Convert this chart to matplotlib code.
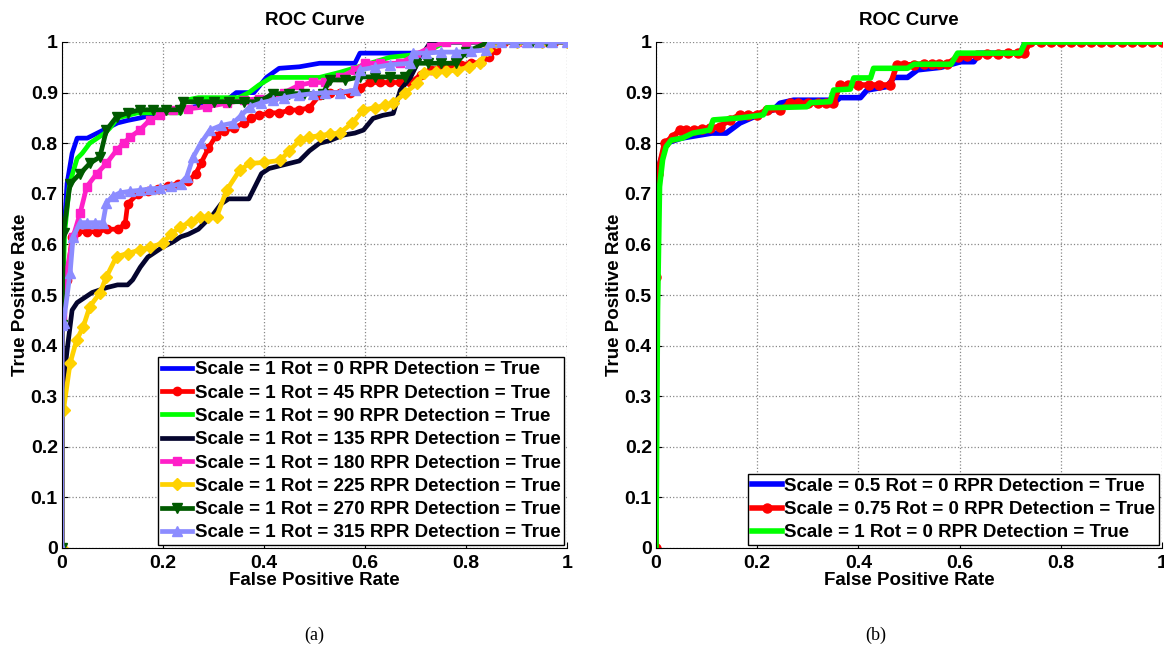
import matplotlib
matplotlib.use("Agg")
import matplotlib.pyplot as plt
from matplotlib.ticker import FuncFormatter

plt.rcParams['font.family'] = ['Liberation Sans', 'DejaVu Sans']
plt.rcParams['font.weight'] = 'bold'

# ---- (a) rotations, scale = 1 ----
rot0_x = [0, 0, 0.005, 0.01, 0.02, 0.03, 0.05, 0.07, 0.09, 0.11, 0.13, 0.155, 0.175, 0.2, 0.234, 0.25, 0.28, 0.32, 0.345, 0.38,
          0.405, 0.43, 0.47, 0.51, 0.58, 0.59, 0.65, 0.72, 0.73, 0.8, 0.9, 1.0]
rot0_y = [0, 0.53, 0.64, 0.72, 0.78, 0.81, 0.81, 0.82, 0.83, 0.84, 0.845, 0.85, 0.855, 0.86, 0.866, 0.87, 0.875, 0.88, 0.90, 0.90,
          0.93, 0.948, 0.951, 0.958, 0.958, 0.978, 0.978, 0.978, 1.0, 1.0, 1.0, 1.0]

rot45_x = [0, 0, 0.01, 0.02, 0.03, 0.05, 0.07, 0.09, 0.11, 0.125, 0.13, 0.15, 0.17, 0.19, 0.21, 0.23, 0.25, 0.265, 0.275, 0.29,
           0.305, 0.32, 0.34, 0.36, 0.375, 0.39, 0.41, 0.43, 0.45, 0.47, 0.49, 0.51, 0.53, 0.55, 0.57, 0.59, 0.61, 0.63, 0.65, 0.67,
           0.69, 0.71, 0.73, 0.75, 0.77, 0.79, 0.81, 0.83, 0.845, 0.86, 0.875, 0.9, 0.925, 0.95, 0.975, 1.0]
rot45_y = [0, 0.44, 0.53, 0.615, 0.625, 0.625, 0.625, 0.63, 0.63, 0.64, 0.68, 0.70, 0.705, 0.71, 0.715, 0.72, 0.725, 0.74, 0.76, 0.79,
           0.815, 0.825, 0.83, 0.84, 0.85, 0.855, 0.86, 0.86, 0.865, 0.866, 0.87, 0.895, 0.90, 0.90, 0.90, 0.91, 0.92, 0.92, 0.92, 0.92,
           0.92, 0.935, 0.945, 0.95, 0.955, 0.955, 0.958, 0.96, 0.97, 0.985, 1.0, 1.0, 1.0, 1.0, 1.0, 1.0]

rot90_x = [0, 0, 0.005, 0.015, 0.03, 0.04, 0.055, 0.07, 0.085, 0.095, 0.11, 0.13, 0.15, 0.18, 0.21, 0.235, 0.245, 0.27, 0.30, 0.33,
           0.35, 0.37, 0.39, 0.415, 0.45, 0.48, 0.51, 0.55, 0.60, 0.65, 0.70, 0.74, 0.76, 0.80, 0.90, 1.0]
rot90_y = [0, 0.44, 0.62, 0.72, 0.77, 0.78, 0.80, 0.81, 0.82, 0.83, 0.85, 0.855, 0.86, 0.86, 0.86, 0.86, 0.885, 0.89, 0.89, 0.89,
           0.89, 0.90, 0.915, 0.93, 0.93, 0.93, 0.93, 0.94, 0.955, 0.97, 0.975, 0.99, 1.0, 1.0, 1.0, 1.0]

rot135_x = [0, 0, 0.01, 0.02, 0.03, 0.045, 0.06, 0.075, 0.09, 0.11, 0.13, 0.14, 0.155, 0.17, 0.185, 0.2, 0.22, 0.235, 0.25, 0.27,
            0.285, 0.30, 0.315, 0.33, 0.35, 0.37, 0.385, 0.395, 0.41, 0.43, 0.45, 0.47, 0.49, 0.51, 0.53, 0.557, 0.58, 0.597, 0.616, 0.635,
            0.656, 0.67, 0.69, 0.71, 0.73, 0.8, 0.9, 1.0]
rot135_y = [0, 0.30, 0.39, 0.47, 0.485, 0.495, 0.505, 0.51, 0.515, 0.52, 0.52, 0.53, 0.555, 0.575, 0.585, 0.595, 0.605, 0.615, 0.62, 0.63,
            0.645, 0.66, 0.68, 0.69, 0.69, 0.69, 0.72, 0.74, 0.75, 0.755, 0.76, 0.765, 0.785, 0.80, 0.805, 0.816, 0.82, 0.826, 0.849, 0.855,
            0.859, 0.905, 0.93, 0.97, 1.0, 1.0, 1.0, 1.0]

rot180_x = [0, 0, 0.01, 0.022, 0.036, 0.049, 0.069, 0.088, 0.108, 0.122, 0.135, 0.154, 0.174, 0.195, 0.22, 0.25, 0.287, 0.326, 0.36, 0.39,
            0.418, 0.44, 0.47, 0.497, 0.52, 0.55, 0.58, 0.60, 0.63, 0.67, 0.70, 0.73, 0.76, 0.8, 0.83, 0.87, 0.9, 0.95, 1.0]
rot180_y = [0, 0.46, 0.55, 0.615, 0.662, 0.714, 0.74, 0.76, 0.786, 0.80, 0.812, 0.826, 0.846, 0.855, 0.866, 0.868, 0.872, 0.879, 0.885, 0.888,
            0.892, 0.90, 0.915, 0.92, 0.92, 0.93, 0.945, 0.958, 0.958, 0.958, 0.975, 0.99, 1.0, 1.0, 1.0, 1.0, 1.0, 1.0, 1.0]

rot225_x = [0, 0, 0.003, 0.016, 0.029, 0.042, 0.055, 0.075, 0.088, 0.108, 0.13, 0.154, 0.175, 0.2, 0.215, 0.234, 0.255, 0.273, 0.29, 0.306,
            0.326, 0.352, 0.372, 0.40, 0.432, 0.45, 0.471, 0.49, 0.51, 0.53, 0.55, 0.575, 0.597, 0.62, 0.64, 0.656, 0.68, 0.703, 0.716, 0.74,
            0.76, 0.782, 0.805, 0.828, 0.841, 0.86, 0.9, 0.95, 1.0]
rot225_y = [0, 0.27, 0.273, 0.365, 0.411, 0.437, 0.477, 0.504, 0.536, 0.576, 0.582, 0.589, 0.595, 0.602, 0.62, 0.634, 0.645, 0.654, 0.654, 0.654,
            0.707, 0.747, 0.76, 0.762, 0.766, 0.785, 0.806, 0.812, 0.815, 0.818, 0.82, 0.84, 0.866, 0.87, 0.875, 0.879, 0.9, 0.918, 0.938, 0.94,
            0.942, 0.945, 0.95, 0.958, 0.984, 1.0, 1.0, 1.0, 1.0]

rot270_x = [0, 0, 0.003, 0.016, 0.036, 0.055, 0.075, 0.088, 0.108, 0.13, 0.154, 0.18, 0.205, 0.234, 0.24, 0.27, 0.30, 0.33, 0.36, 0.39,
            0.418, 0.45, 0.48, 0.517, 0.53, 0.56, 0.59, 0.62, 0.65, 0.68, 0.70, 0.725, 0.75, 0.78, 0.80, 0.845, 0.87, 0.9, 0.93, 0.96, 1.0]
rot270_y = [0, 0.44, 0.623, 0.72, 0.74, 0.76, 0.773, 0.826, 0.852, 0.86, 0.866, 0.866, 0.866, 0.866, 0.882, 0.882, 0.882, 0.882, 0.882, 0.882,
            0.898, 0.898, 0.898, 0.898, 0.925, 0.925, 0.931, 0.931, 0.931, 0.931, 0.958, 0.958, 0.958, 0.958, 0.98, 1.0, 1.0, 1.0, 1.0, 1.0, 1.0]

rot315_x = [0, 0, 0.003, 0.016, 0.022, 0.036, 0.05, 0.065, 0.081, 0.088, 0.1, 0.115, 0.135, 0.155, 0.175, 0.194, 0.215, 0.235, 0.247, 0.26,
            0.275, 0.293, 0.315, 0.339, 0.355, 0.372, 0.395, 0.418, 0.44, 0.47, 0.497, 0.52, 0.55, 0.58, 0.59, 0.62, 0.65, 0.69, 0.695, 0.72,
            0.75, 0.78, 0.81, 0.84, 0.848, 0.87, 0.895, 0.92, 0.945, 0.97, 1.0]
rot315_y = [0, 0.44, 0.445, 0.543, 0.615, 0.643, 0.643, 0.643, 0.643, 0.682, 0.695, 0.702, 0.705, 0.707, 0.71, 0.711, 0.715, 0.72, 0.734, 0.773,
            0.80, 0.826, 0.835, 0.84, 0.855, 0.872, 0.88, 0.885, 0.89, 0.895, 0.898, 0.9, 0.9, 0.905, 0.945, 0.95, 0.955, 0.958, 0.978, 0.978,
            0.98, 0.98, 0.982, 0.984, 1.0, 1.0, 1.0, 1.0, 1.0, 1.0, 1.0]

# ---- (b) scales, rot = 0 ----
sc05_x = [0, 0, 0.003, 0.02, 0.05, 0.08, 0.11, 0.139, 0.166, 0.2, 0.232, 0.245, 0.272, 0.32, 0.358, 0.364, 0.404, 0.417, 0.457, 0.47,
          0.497, 0.517, 0.563, 0.602, 0.628, 0.64, 0.72, 0.73, 0.8, 1.0]
sc05_y = [0, 0.6, 0.745, 0.80, 0.81, 0.815, 0.82, 0.82, 0.84, 0.855, 0.866, 0.879, 0.885, 0.885, 0.885, 0.89, 0.89, 0.905, 0.912, 0.93,
          0.93, 0.945, 0.95, 0.961, 0.961, 0.978, 0.978, 1.0, 1.0, 1.0]

sc075_x = [0, 0, 0.003, 0.017, 0.033, 0.047, 0.06, 0.075, 0.09, 0.106, 0.126, 0.146, 0.166, 0.182, 0.199, 0.219, 0.245, 0.264, 0.28, 0.3,
           0.32, 0.335, 0.35, 0.364, 0.38, 0.4, 0.42, 0.44, 0.463, 0.476, 0.49, 0.51, 0.53, 0.545, 0.56, 0.576, 0.596, 0.615, 0.635, 0.655,
           0.675, 0.695, 0.715, 0.727, 0.74, 0.76, 0.78, 0.8, 0.82, 0.84, 0.86, 0.88, 0.9, 0.92, 0.94, 0.96, 0.98, 1.0]
sc075_y = [0, 0.536, 0.74, 0.80, 0.813, 0.826, 0.826, 0.826, 0.828, 0.83, 0.833, 0.846, 0.856, 0.856, 0.856, 0.866, 0.866, 0.879, 0.879, 0.879,
           0.879, 0.879, 0.879, 0.915, 0.915, 0.915, 0.915, 0.915, 0.915, 0.955, 0.955, 0.955, 0.957, 0.957, 0.957, 0.957, 0.971, 0.973, 0.975, 0.976,
           0.977, 0.978, 0.978, 0.978, 1.0, 1.0, 1.0, 1.0, 1.0, 1.0, 1.0, 1.0, 1.0, 1.0, 1.0, 1.0, 1.0, 1.0]

sc1_x = [0, 0.003, 0.007, 0.013, 0.02, 0.03, 0.052, 0.073, 0.09, 0.106, 0.113, 0.14, 0.166, 0.19, 0.212, 0.219, 0.26, 0.298, 0.305, 0.344,
         0.351, 0.384, 0.391, 0.424, 0.43, 0.46, 0.497, 0.51, 0.563, 0.583, 0.596, 0.65, 0.72, 0.73, 0.8, 0.9, 1.0]
sc1_y = [0, 0.47, 0.714, 0.767, 0.793, 0.806, 0.81, 0.82, 0.823, 0.826, 0.846, 0.848, 0.85, 0.853, 0.856, 0.87, 0.871, 0.872, 0.88, 0.882,
         0.905, 0.907, 0.929, 0.929, 0.948, 0.948, 0.948, 0.956, 0.956, 0.956, 0.978, 0.978, 0.978, 1.0, 1.0, 1.0, 1.0]

ticks_x = [0, 0.2, 0.4, 0.6, 0.8, 1]
ticks_y = [0, 0.1, 0.2, 0.3, 0.4, 0.5, 0.6, 0.7, 0.8, 0.9, 1]

fig = plt.figure(figsize=(11.64, 6.54), dpi=100)
ax1 = fig.add_axes([62/1164, 106/654, 505/1164, 506/654])
ax2 = fig.add_axes([656/1164, 106/654, 506/1164, 506/654])

lw = 3.4
ax1.plot(rot0_x, rot0_y, '-', color='#0000ff', lw=lw, label='Scale = 1 Rot = 0 RPR Detection = True')
ax1.plot(rot45_x, rot45_y, '-o', color='#ff0000', lw=lw, ms=6, label='Scale = 1 Rot = 45 RPR Detection = True')
ax1.plot(rot90_x, rot90_y, '-.', color='#00ff00', ls='-', lw=lw, ms=5, label='Scale = 1 Rot = 90 RPR Detection = True')
ax1.plot(rot135_x, rot135_y, '-.', color='#05052e', ls='-', lw=lw, ms=5, label='Scale = 1 Rot = 135 RPR Detection = True')
ax1.plot(rot180_x, rot180_y, '-s', color='#ff1fc8', lw=lw, ms=6, label='Scale = 1 Rot = 180 RPR Detection = True')
ax1.plot(rot225_x, rot225_y, '-D', color='#ffd200', lw=lw, ms=6, label='Scale = 1 Rot = 225 RPR Detection = True')
ax1.plot(rot270_x, rot270_y, '-v', color='#005a00', lw=lw, ms=7.5, label='Scale = 1 Rot = 270 RPR Detection = True')
ax1.plot(rot315_x, rot315_y, '-^', color='#8c8cff', lw=lw, ms=7.5, label='Scale = 1 Rot = 315 RPR Detection = True')

ax2.plot(sc05_x, sc05_y, '-', color='#0000ff', lw=4, label='Scale = 0.5 Rot = 0 RPR Detection = True')
ax2.plot(sc075_x, sc075_y, '-o', color='#ff0000', lw=4, ms=6.5, label='Scale = 0.75 Rot = 0 RPR Detection = True')
ax2.plot(sc1_x, sc1_y, '-.', color='#00ff00', ls='-', lw=4, ms=5, label='Scale = 1 Rot = 0 RPR Detection = True')

for ax in (ax1, ax2):
    ax.set_xlim(0, 1)
    ax.set_ylim(0, 1)
    ax.set_xticks(ticks_x)
    ax.set_yticks(ticks_y)
    ax.xaxis.set_major_formatter(FuncFormatter(lambda v, p: '%g' % v))
    ax.yaxis.set_major_formatter(FuncFormatter(lambda v, p: '%g' % v))
    ax.tick_params(direction='in', length=4, width=0.8, labelsize=14)
    ax.tick_params(axis='x', pad=5)
    ax.tick_params(axis='y', pad=3)
    ax.grid(True, ls=':', color='#888888', lw=0.9)
    ax.spines['top'].set_visible(False)
    ax.spines['right'].set_visible(False)
    ax.set_title('ROC Curve', fontsize=13.5, fontweight='bold', pad=12)
    ax.set_xlabel('False Positive Rate', fontsize=13.5, fontweight='bold', labelpad=0)
    ax.set_ylabel('True Positive Rate', fontsize=13.5, fontweight='bold', labelpad=1)
    for lab in ax.get_xticklabels() + ax.get_yticklabels():
        lab.set_fontweight('bold')
    ax.set_axisbelow(True)

leg_kw = dict(loc='lower right', fontsize=13.5, fancybox=False, edgecolor='black', framealpha=1,
              borderpad=0.2, labelspacing=0.33, handlelength=1.6, handletextpad=0.15, borderaxespad=0.15)
l1 = ax1.legend(**leg_kw)
l2 = ax2.legend(**leg_kw)
for lg in (l1, l2):
    lg.get_frame().set_linewidth(1.0)

fig.text(314/1164, 1 - 635/654, '(a)', family='Liberation Serif', fontweight='normal', fontsize=13, ha='center', va='center')
fig.text(876/1164, 1 - 635/654, '(b)', family='Liberation Serif', fontweight='normal', fontsize=13, ha='center', va='center')

fig.savefig('out.png', dpi=100)
